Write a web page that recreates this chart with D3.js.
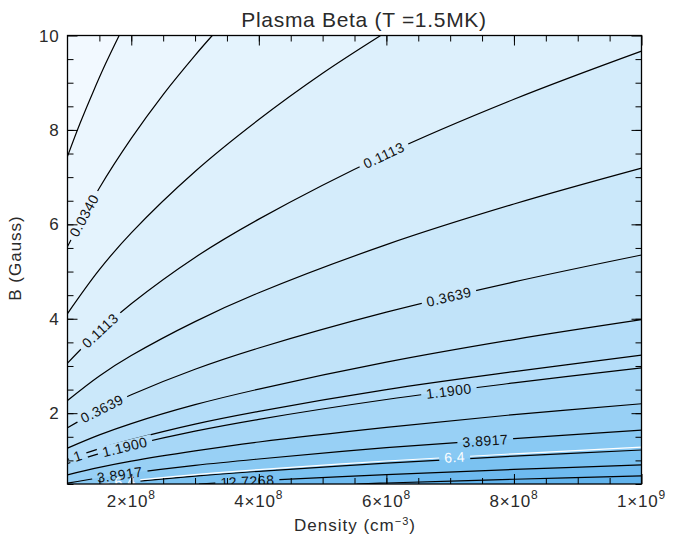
<!DOCTYPE html>
<html>
<head>
<meta charset="utf-8">
<script src="https://cdn.jsdelivr.net/npm/d3@7"></script>
<style>
body { margin: 0; background: #fff; }
svg { display: block; font-family: "Liberation Sans", Arial, sans-serif; }
</style>
</head>
<body>
<svg id="chart" width="685" height="538"></svg>
<script>
var levels = [0.0188, 0.0340, 0.0615, 0.1113, 0.2012, 0.3639, 0.6580, 1.1900, 2.1520, 3.8917, 7.0380, 12.7268, 23.0200];
var levelCurves = [
  [[1.0e8,7.44],[1.2e8,8.15],[1.4e8,8.80],[1.6e8,9.41],[1.81e8,10]],
  [[1.0e8,5.53],[1.5e8,6.77],[2.0e8,7.82],[2.5e8,8.75],[3.0e8,9.58],[3.27e8,10]],
  [[1.0e8,4.11],[1.5e8,5.04],[2.0e8,5.82],[3.0e8,7.12],[4.0e8,8.22],[5.0e8,9.20],[5.91e8,10]],
  [[1.0e8,3.06],[1.5e8,3.74],[2.0e8,4.32],[3.0e8,5.30],[4.0e8,6.11],[6.0e8,7.49],[8.0e8,8.65],[1.0e9,9.67]],
  [[1.0e8,2.27],[1.5e8,2.79],[2.0e8,3.22],[3.0e8,3.94],[4.0e8,4.55],[6.0e8,5.57],[8.0e8,6.43],[1.0e9,7.19]],
  [[1.0e8,1.69],[1.5e8,2.07],[2.0e8,2.39],[3.0e8,2.93],[4.0e8,3.38],[6.0e8,4.14],[8.0e8,4.78],[1.0e9,5.35]],
  [[1.0e8,1.26],[1.5e8,1.54],[2.0e8,1.78],[3.0e8,2.18],[4.0e8,2.51],[6.0e8,3.08],[8.0e8,3.56],[1.0e9,3.98]],
  [[1.0e8,0.935],[1.5e8,1.145],[2.0e8,1.32],[3.0e8,1.62],[4.0e8,1.87],[6.0e8,2.29],[8.0e8,2.64],[1.0e9,2.96]],
  [[1.0e8,0.695],[1.5e8,0.851],[2.0e8,0.983],[3.0e8,1.20],[4.0e8,1.39],[6.0e8,1.70],[8.0e8,1.97],[1.0e9,2.20]],
  [[1.0e8,0.517],[1.5e8,0.633],[2.0e8,0.731],[3.0e8,0.895],[4.0e8,1.03],[6.0e8,1.27],[8.0e8,1.46],[1.0e9,1.64]],
  [[1.69e8,0.5],[2.0e8,0.544],[3.0e8,0.666],[4.0e8,0.769],[6.0e8,0.942],[8.0e8,1.09],[1.0e9,1.22]],
  [[3.06e8,0.5],[4.0e8,0.572],[6.0e8,0.700],[8.0e8,0.809],[1.0e9,0.904]],
  [[5.53e8,0.5],[6.0e8,0.521],[8.0e8,0.601],[1.0e9,0.672]]
];
// the two extra levels drawn on top (1 in black, 6.4 in white)
var extraLevels = [1, 6.4];
var extraCurves = [
  [[1.0e8,1.02],[1.5e8,1.25],[2.0e8,1.44],[3.0e8,1.77],[4.0e8,2.04],[6.0e8,2.50],[8.0e8,2.88],[1.0e9,3.23]],
  [[1.54e8,0.5],[2.0e8,0.570],[3.0e8,0.698],[4.0e8,0.806],[6.0e8,0.987],[8.0e8,1.14],[1.0e9,1.28]]
];
// contour labels and the density where each one sits
var labelTexts = ["0.0340","0.1113","0.1113","0.3639","0.3639","1","1.1900","1.1900","3.8917","3.8917","6.4","6.4","12.7268"];
var labelDensities = [1.26e8,1.51e8,5.96e8,1.54e8,6.98e8,1.16e8,1.9e8,6.98e8,1.82e8,7.55e8,1.9e8,7.07e8,3.82e8];

var xTickValues = [2e8, 4e8, 6e8, 8e8, 1e9];
var xTickLabels = [["2","8"],["4","8"],["6","8"],["8","8"],["1","9"]];
var yTickValues = [2, 4, 6, 8, 10];
var yTickLabels = ["2","4","6","8","10"];

var svg = d3.select("#chart");
var pLeft = 67.5, pRight = 641.5, pTop = 35.5, pBottom = 484;
var ink = "#2a2a2a";

var x = d3.scaleLinear().domain([1e8, 1e9]).range([pLeft, pRight]);
var y = d3.scaleLinear().domain([0.5, 10]).range([pBottom, pTop]);

var line = d3.line()
    .x(function(d) { return x(d[0]); })
    .y(function(d) { return y(d[1]); })
    .curve(d3.curveCatmullRom.alpha(0.5));

var color = d3.scaleLog()
    .domain([0.0104, 0.11, 0.36, 1.2, 3.9, 12.7, 41.6])
    .range(["#f6fbff", "#d9eefc", "#c7e6fa", "#aedaf8", "#90ccf4", "#74bef0", "#5aafea"]);

var defs = svg.append("defs");
defs.append("clipPath").attr("id", "plotclip")
  .append("rect").attr("x", pLeft).attr("y", pTop)
  .attr("width", pRight - pLeft).attr("height", pBottom - pTop);

var mask = defs.append("mask").attr("id", "gaps")
    .attr("maskUnits", "userSpaceOnUse")
    .attr("x", 0).attr("y", 0).attr("width", 685).attr("height", 538);
mask.append("rect").attr("width", 685).attr("height", 538).attr("fill", "#fff");

var plot = svg.append("g").attr("clip-path", "url(#plotclip)");

// shading: region below each contour gets a deeper blue
plot.append("rect")
    .attr("x", pLeft).attr("y", pTop)
    .attr("width", pRight - pLeft).attr("height", pBottom - pTop)
    .attr("fill", color(0.014));

plot.selectAll("path.band")
  .data(levelCurves)
  .enter().append("path")
    .attr("class", "band")
    .attr("fill", function(d, i) { return color(levels[i] * 1.34); })
    .attr("stroke", "none")
    .attr("d", function(d) {
      var first = d[0], last = d[d.length - 1];
      var p = line(d);
      if (last[1] >= 10) p += "L" + x(1e9) + "," + y(10);
      p += "L" + x(1e9) + "," + y(0.5);
      if (first[0] <= 1e8) p += "L" + x(1e8) + "," + y(0.5);
      return p + "Z";
    });

var lines = plot.append("g").attr("mask", "url(#gaps)");

var allCurves = levelCurves.concat(extraCurves);
var allLevels = levels.concat(extraLevels);

var paths = lines.selectAll("path.contour")
  .data(allCurves)
  .enter().append("path")
    .attr("class", "contour")
    .attr("fill", "none")
    .attr("stroke", function(d, i) { return allLevels[i] === 6.4 ? "#fff" : "#000"; })
    .attr("stroke-width", 1.2)
    .attr("d", line);

// labels, placed along their contour
var labels = plot.append("g");
labelTexts.forEach(function(t, j) {
  var lev = parseFloat(t);
  var idx = allLevels.findIndex(function(v) { return Math.abs(v - lev) < 1e-3; });
  var node = paths.nodes()[idx];
  var total = node.getTotalLength();
  var tx = x(labelDensities[j]);
  var lo = 0, hi = total;
  for (var k = 0; k < 40; k++) {
    var mid = (lo + hi) / 2;
    if (node.getPointAtLength(mid).x < tx) lo = mid; else hi = mid;
  }
  var p = node.getPointAtLength(lo);
  var p0 = node.getPointAtLength(Math.max(0, lo - 2));
  var p1 = node.getPointAtLength(Math.min(total, lo + 2));
  var ang = Math.atan2(p1.y - p0.y, p1.x - p0.x) * 180 / Math.PI;
  var txt = labels.append("text")
      .attr("transform", "translate(" + p.x + "," + p.y + ") rotate(" + ang + ")")
      .attr("text-anchor", "middle")
      .attr("dy", "0.36em")
      .attr("font-size", 14)
      .attr("letter-spacing", 0.5)
      .attr("fill", lev === 6.4 ? "#fff" : "#111")
      .text(t);
  var w = txt.node().getComputedTextLength() + 10;
  mask.append("rect")
      .attr("x", -w / 2).attr("y", -6).attr("width", w).attr("height", 12)
      .attr("transform", "translate(" + p.x + "," + p.y + ") rotate(" + ang + ")")
      .attr("fill", "#000");
});

// frame and inward ticks on all four sides
var xMinor = d3.range(3, 20).map(function(i) { return i * 5e7; });
var yMinor = d3.range(1, 20).map(function(i) { return i * 0.5; });

var sides = [
  [function() { return d3.axisBottom(x); }, "translate(0," + pBottom + ")", xMinor, xTickValues],
  [function() { return d3.axisTop(x); }, "translate(0," + pTop + ")", xMinor, xTickValues],
  [function() { return d3.axisLeft(y); }, "translate(" + pLeft + ",0)", yMinor, yTickValues],
  [function() { return d3.axisRight(y); }, "translate(" + pRight + ",0)", yMinor, yTickValues]
];
sides.forEach(function(a) {
  var g1 = svg.append("g").attr("transform", a[1])
      .call(a[0]().tickValues(a[2]).tickSize(-6).tickFormat(""));
  var g2 = svg.append("g").attr("transform", a[1])
      .call(a[0]().tickValues(a[3]).tickSize(-10).tickFormat(""));
  [g1, g2].forEach(function(g) {
    g.select(".domain").remove();
    g.selectAll("line").attr("stroke", "#000").attr("stroke-width", 1);
  });
});

svg.append("rect")
    .attr("x", pLeft).attr("y", pTop)
    .attr("width", pRight - pLeft).attr("height", pBottom - pTop)
    .attr("fill", "none").attr("stroke", "#000").attr("stroke-width", 1.3);

// tick labels
var xl = svg.append("g").attr("font-size", 17).attr("fill", ink);
xl.selectAll("text").data(xTickValues).enter().append("text")
    .attr("x", function(d) { return x(d); })
    .attr("y", pBottom + 23)
    .attr("text-anchor", "middle")
    .attr("letter-spacing", 0.8)
    .each(function(d, i) {
      var t = d3.select(this);
      t.append("tspan").text(xTickLabels[i][0] + "\u00d710");
      t.append("tspan").attr("dy", -8).attr("font-size", 12).text(xTickLabels[i][1]);
    });

svg.append("g").attr("font-size", 17).attr("fill", ink)
  .selectAll("text").data(yTickValues).enter().append("text")
    .attr("x", pLeft - 8)
    .attr("y", function(d) { return y(d); })
    .attr("dy", "0.36em")
    .attr("text-anchor", "end")
    .attr("letter-spacing", 0.8)
    .text(function(d, i) { return yTickLabels[i]; });

// titles
svg.append("text")
    .attr("x", 364).attr("y", 27)
    .attr("text-anchor", "middle")
    .attr("font-size", 21).attr("letter-spacing", 0.7).attr("fill", ink)
    .text("Plasma Beta (T =1.5MK)");

var xt = svg.append("text")
    .attr("x", 355).attr("y", 531)
    .attr("text-anchor", "middle")
    .attr("font-size", 17).attr("letter-spacing", 1).attr("fill", ink);
xt.append("tspan").text("Density (cm");
xt.append("tspan").attr("dy", -6).attr("font-size", 11).text("\u22123");
xt.append("tspan").attr("dy", 6).text(")");

svg.append("text")
    .attr("transform", "translate(21,258) rotate(-90)")
    .attr("text-anchor", "middle")
    .attr("font-size", 17).attr("letter-spacing", 1).attr("fill", ink)
    .text("B (Gauss)");
</script>
</body>
</html>
